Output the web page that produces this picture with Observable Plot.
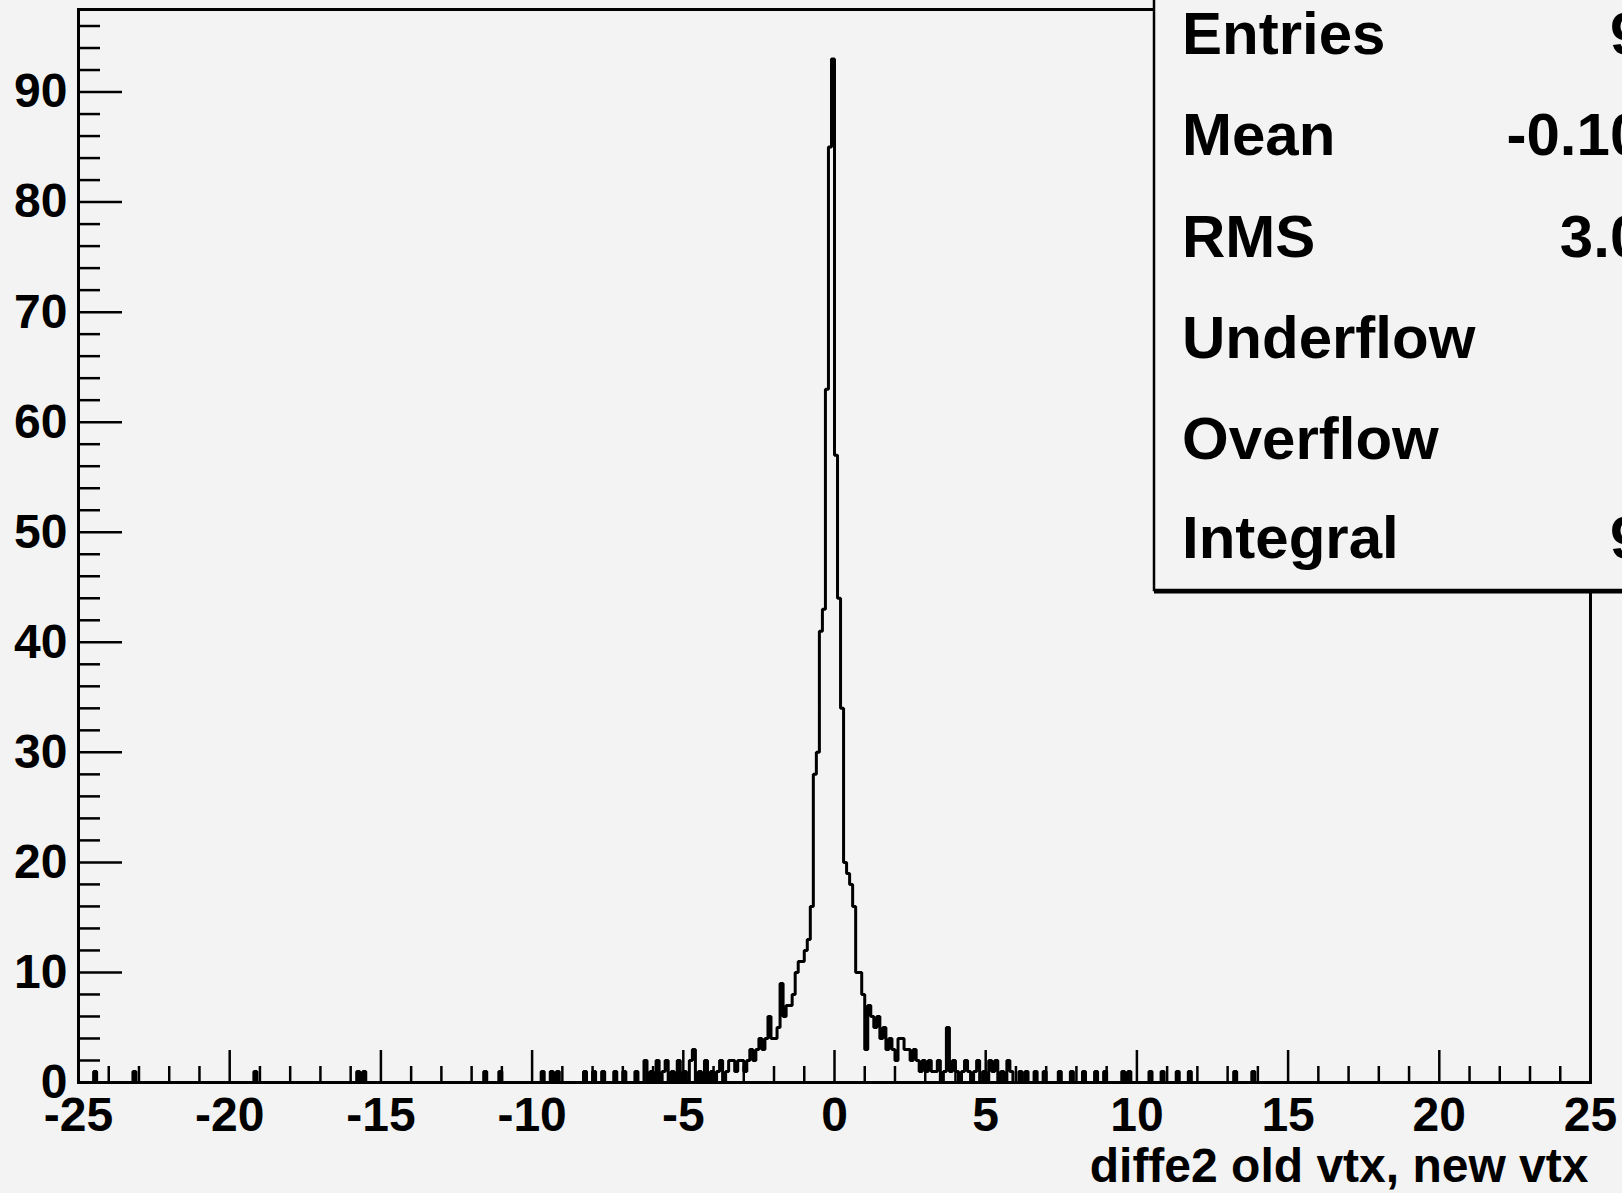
<!DOCTYPE html>
<html>
<head>
<meta charset="utf-8">
<script src="https://cdn.jsdelivr.net/npm/d3@7"></script>
<script src="https://cdn.jsdelivr.net/npm/@observablehq/plot@0.6"></script>
<style>
html, body { margin: 0; padding: 0; background: #f3f3f3; overflow: hidden; }
#chart { width: 1622px; height: 1193px; overflow: hidden; position: relative; }
#chart svg { overflow: hidden; display: block; }
</style>
</head>
<body>
<div id="chart"></div>
<script>
// ---- Data: histogram "diffe2 old vtx, new vtx" (500 bins, -25..25, width 0.1); non-empty bins only
const binLow = [
  -24.5, -23.2, -19.2, -15.8, -15.6, -11.6, -11.1, -9.7, -9.4, -9.2,
  -8.3, -8.0, -7.7, -7.3, -7.0, -6.6, -6.3, -6.1, -5.9, -5.7,
  -5.6, -5.4, -5.2, -5.0, -4.8, -4.7, -4.5, -4.3, -4.1, -3.9,
  -3.8, -3.6, -3.5, -3.4, -3.3, -3.2, -3.1, -3.0, -2.9, -2.8,
  -2.7, -2.6, -2.5, -2.4, -2.3, -2.2, -2.1, -2.0, -1.9, -1.8,
  -1.7, -1.6, -1.5, -1.4, -1.3, -1.2, -1.1, -1.0, -0.9, -0.8,
  -0.7, -0.6, -0.5, -0.4, -0.3, -0.2, -0.1,
  0.0, 0.1, 0.2, 0.3, 0.4, 0.5, 0.6, 0.7, 0.8, 0.9,
  1.0, 1.1, 1.2, 1.3, 1.4, 1.5, 1.6, 1.7, 1.8, 1.9,
  2.0, 2.1, 2.2, 2.3, 2.4, 2.5, 2.6, 2.7, 2.8, 2.9,
  3.0, 3.1, 3.2, 3.3, 3.4, 3.6, 3.7, 3.8, 3.9, 4.0,
  4.2, 4.3, 4.4, 4.6, 4.7, 4.9, 5.1, 5.2, 5.3, 5.5,
  5.7, 5.8, 6.1, 6.3, 6.6, 6.9, 7.4, 7.8, 8.2, 8.6,
  8.9, 9.5, 9.7, 10.4, 10.8, 11.3, 11.7, 13.2, 13.8
];
const binCount = [
  1, 1, 1, 1, 1, 1, 1, 1, 1, 1,
  1, 1, 1, 1, 1, 1, 2, 1, 2, 1,
  2, 1, 2, 1, 2, 3, 1, 2, 1, 1,
  2, 1, 2, 2, 1, 2, 2, 1, 2, 3,
  2, 3, 4, 3, 4, 6, 4, 4, 5, 9,
  6, 7, 7, 8, 10, 11, 11, 12, 13, 16,
  28, 30, 41, 43, 63, 85, 93,
  57, 44, 34, 20, 19, 18, 16, 10, 10, 8,
  3, 7, 6, 5, 6, 4, 5, 3, 4, 3,
  2, 4, 4, 3, 3, 2, 3, 2, 1, 2,
  1, 2, 1, 1, 2, 1, 5, 1, 2, 1,
  1, 2, 1, 1, 2, 1, 2, 1, 2, 1,
  2, 1, 1, 1, 1, 1, 1, 1, 1, 1,
  1, 1, 1, 1, 1, 1, 1, 1, 1
];

// ---- Axis ticks and labels
const xMajor = [-25, -20, -15, -10, -5, 0, 5, 10, 15, 20, 25];
const xMajorLabels = ["-25", "-20", "-15", "-10", "-5", "0", "5", "10", "15", "20", "25"];
const yMajor = [0, 10, 20, 30, 40, 50, 60, 70, 80, 90];
const yMajorLabels = ["0", "10", "20", "30", "40", "50", "60", "70", "80", "90"];
const xTitle = "diffe2 old vtx, new vtx";

// ---- Stats box
const statNames = ["Entries", "Mean", "RMS", "Underflow", "Overflow", "Integral"];
const statValues = ["926", "-0.1036", "3.066", "0", "0", "926"];

// ---- Layout
const W = 1622, H = 1193;
const mL = 78, mR = 32, mT = 9, mB = 111;
const xDomain = [-25, 25], yDomain = [0, 97.5];
const pxPerY = (H - mT - mB) / (yDomain[1] - yDomain[0]);
const pxPerX = (W - mL - mR) / (xDomain[1] - xDomain[0]);
const font = "'Liberation Sans', Arial, Helvetica, sans-serif";

// Build full bin table from the sparse arrays (empty bins are 0)
const nBins = 500, lo0 = -25, bw = 0.1;
const counts = new Array(nBins).fill(0);
binLow.forEach((lo, i) => { counts[Math.round((lo - lo0) / bw)] = binCount[i]; });
const outline = [];
counts.forEach((c, i) => {
  const a = lo0 + i * bw;
  outline.push({x: a, y: c}, {x: a + bw, y: c});
});

const xMinor = d3.range(-24, 25).filter(v => v % 5 !== 0);
const yMinor = d3.range(2, 97, 2).filter(v => v % 10 !== 0);

const tickStyle = {stroke: "black", strokeWidth: 2.5};
const labelStyle = {fontSize: 48, fontWeight: "bold", fontFamily: font, fill: "black"};

const svg = Plot.plot({
  width: W, height: H,
  marginLeft: mL, marginRight: mR, marginTop: mT, marginBottom: mB,
  style: {background: "#f3f3f3", fontFamily: font, overflow: "hidden"},
  x: {domain: xDomain, axis: null},
  y: {domain: yDomain, axis: null},
  marks: [
    // histogram outline
    Plot.line(outline, {x: "x", y: "y", stroke: "black", strokeWidth: 3, strokeLinejoin: "miter"}),
    // x ticks (pointing up)
    Plot.ruleX(xMinor, {x: d => d, y1: 0, y2: 16 / pxPerY, ...tickStyle}),
    Plot.ruleX(xMajor, {x: d => d, y1: 0, y2: 32 / pxPerY, ...tickStyle}),
    // y ticks (pointing right)
    Plot.ruleY(yMinor, {y: d => d, x1: -25, x2: -25 + 22 / pxPerX, ...tickStyle}),
    Plot.ruleY(yMajor, {y: d => d, x1: -25, x2: -25 + 44 / pxPerX, ...tickStyle}),
    // frame
    Plot.frame({stroke: "black", strokeWidth: 3}),
    // tick labels
    Plot.text(xMajor, {x: d => d, y: 0, text: (d, i) => xMajorLabels[i], dy: 33, lineAnchor: "middle", textAnchor: "middle", ...labelStyle}),
    Plot.text(yMajor, {x: -25, y: d => d, text: (d, i) => yMajorLabels[i], dx: -11, lineAnchor: "middle", textAnchor: "end", ...labelStyle}),
    // axis title
    Plot.text([xTitle], {frameAnchor: "bottom-right", text: d => d, dx: -2, dy: 84, lineAnchor: "middle", textAnchor: "end", ...labelStyle})
  ]
});
document.getElementById("chart").appendChild(svg);

// ---- Stats box (ROOT TPaveStats), cut off at the top and right edge
const g = d3.select(svg).append("g").attr("text-anchor", "start");
const bx = 1154, by = -10, bBottom = 590, bRight = 1760;
g.append("rect").attr("x", bx).attr("y", by).attr("width", bRight - bx).attr("height", bBottom - by)
  .attr("fill", "#f3f3f3").attr("stroke", "black").attr("stroke-width", 2.5);
g.append("line").attr("x1", bx).attr("x2", bRight).attr("y1", bBottom + 1.5).attr("y2", bBottom + 1.5)
  .attr("stroke", "black").attr("stroke-width", 4);
const baselines = [54, 155, 256.5, 358, 459, 558];
statNames.forEach((name, i) => {
  g.append("text").attr("x", 1182).attr("y", baselines[i]).text(name)
    .attr("text-anchor", "start")
    .attr("font-family", font).attr("font-weight", "bold").attr("font-size", 60).attr("fill", "black");
  g.append("text").attr("x", 1710).attr("y", baselines[i]).text(statValues[i])
    .attr("text-anchor", "end")
    .attr("font-family", font).attr("font-weight", "bold").attr("font-size", 60).attr("fill", "black");
});
</script>
</body>
</html>
